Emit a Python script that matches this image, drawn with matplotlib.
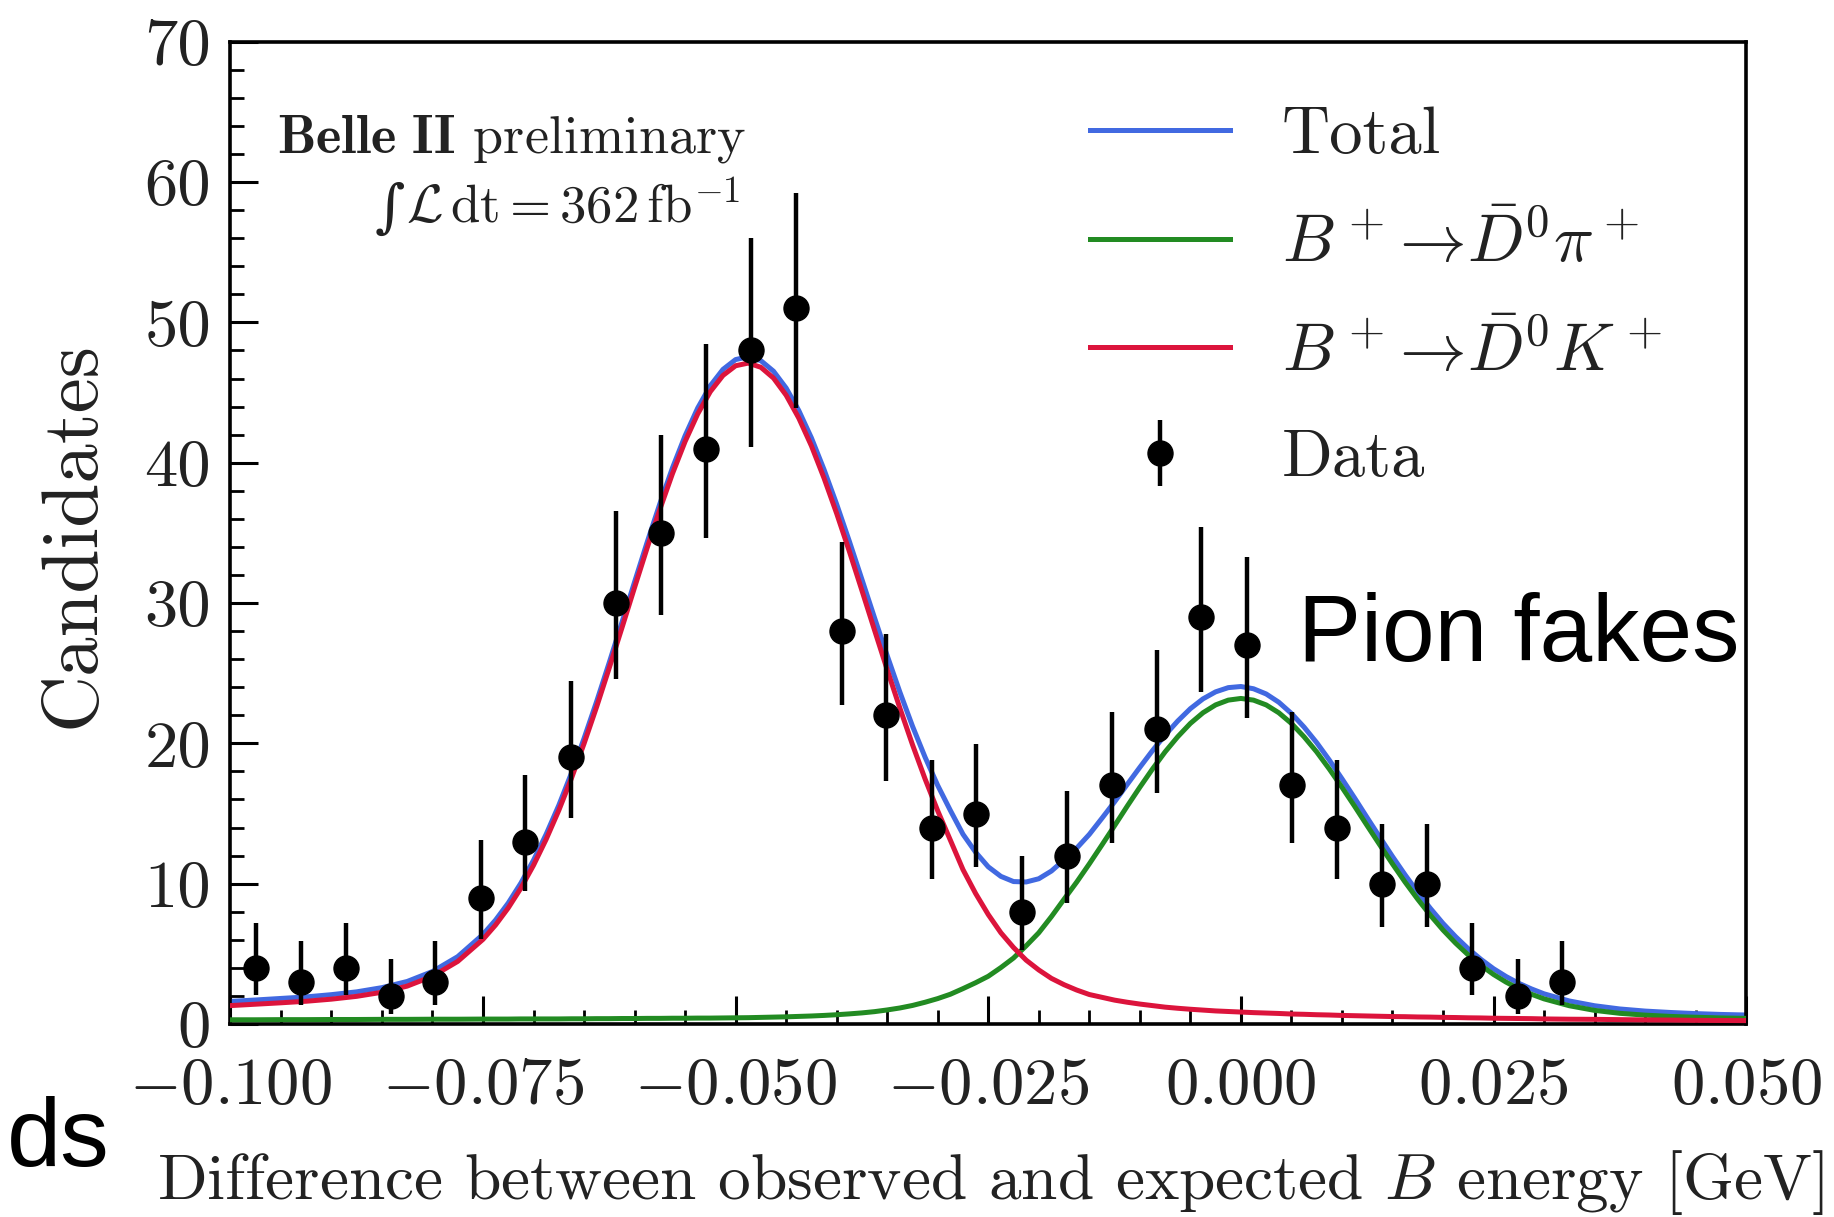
import matplotlib
matplotlib.use("Agg")
import numpy as np
import matplotlib.pyplot as plt
from matplotlib.ticker import MultipleLocator

plt.rcParams['font.family'] = 'serif'
plt.rcParams['font.serif'] = ['cmr10', 'DejaVu Serif']
plt.rcParams['mathtext.fontset'] = 'cm'
plt.rcParams['axes.formatter.use_mathtext'] = True
plt.rcParams['axes.unicode_minus'] = True

# --- data ---
# binned data (bin centres in GeV, candidates per bin, asymmetric Poisson errors)
bin_centers = [-0.0975, -0.0930, -0.0886, -0.0841, -0.0797, -0.0752, -0.0708, -0.0663,
               -0.0618, -0.0574, -0.0529, -0.0485, -0.0440, -0.0395, -0.0351, -0.0306,
               -0.0262, -0.0217, -0.0172, -0.0128, -0.0083, -0.0039, 0.0006, 0.0051,
               0.0095, 0.0140, 0.0184, 0.0229, 0.0274, 0.0318]
counts = [4, 3, 4, 2, 3, 9, 13, 19, 30, 35, 41, 48, 51, 28, 22, 14, 15, 8, 12, 17,
          21, 29, 27, 17, 14, 10, 10, 4, 2, 3]
err_low = [1.91, 1.63, 1.91, 1.29, 1.63, 2.94, 3.55, 4.32, 5.45, 5.88, 6.38, 6.90, 7.12,
           5.26, 4.65, 3.69, 3.83, 2.76, 3.41, 4.07, 4.54, 5.35, 5.16, 4.07, 3.69, 3.10,
           3.10, 1.91, 1.29, 1.63]
err_high = [3.18, 2.94, 3.18, 2.66, 2.94, 4.12, 4.71, 5.44, 6.54, 6.98, 7.46, 7.98, 8.19,
            6.36, 5.77, 4.84, 4.97, 3.96, 4.57, 5.21, 5.66, 6.45, 6.27, 5.21, 4.84, 4.28,
            4.28, 3.18, 2.66, 2.94]

# fit curves (denser sampling around the two peaks)
curve_x = [-0.10000, -0.09750, -0.09500, -0.09250, -0.09000, -0.08750, -0.08500, -0.08250,
           -0.08000, -0.07750, -0.07500, -0.07375, -0.07250, -0.07125, -0.07000, -0.06875,
           -0.06750, -0.06625, -0.06500, -0.06375, -0.06250, -0.06125, -0.06000, -0.05875,
           -0.05750, -0.05625, -0.05500, -0.05375, -0.05250, -0.05125, -0.05000, -0.04875,
           -0.04750, -0.04625, -0.04500, -0.04375, -0.04250, -0.04125, -0.04000, -0.03875,
           -0.03750, -0.03625, -0.03500, -0.03375, -0.03250, -0.03125, -0.03000, -0.02875,
           -0.02750, -0.02625, -0.02500, -0.02375, -0.02250, -0.02125, -0.02000, -0.01875,
           -0.01750, -0.01625, -0.01500, -0.01375, -0.01250, -0.01125, -0.01000, -0.00875,
           -0.00750, -0.00625, -0.00500, -0.00375, -0.00250, -0.00125, 0.00000, 0.00125,
           0.00250, 0.00375, 0.00500, 0.00625, 0.00750, 0.00875, 0.01000, 0.01125,
           0.01250, 0.01375, 0.01500, 0.01625, 0.01750, 0.01875, 0.02000, 0.02125,
           0.02250, 0.02375, 0.02500, 0.02625, 0.02750, 0.02875, 0.03000, 0.03250,
           0.03500, 0.03750, 0.04000, 0.04250, 0.04500, 0.04750, 0.05000]
dk_curve = [1.31, 1.41, 1.51, 1.62, 1.77, 1.97, 2.26, 2.70,
            3.40, 4.46, 6.03, 7.06, 8.27, 9.68, 11.31, 13.16,
            15.22, 17.50, 19.98, 22.61, 25.39, 28.23, 31.11, 33.94,
            36.67, 39.22, 41.51, 43.48, 45.07, 46.22, 46.91, 47.10,
            46.80, 46.03, 44.81, 43.18, 41.20, 38.90, 36.38, 33.69,
            30.89, 28.06, 25.25, 22.52, 19.91, 17.46, 15.19, 13.10,
            11.00, 9.30, 7.80, 6.50, 5.45, 4.55, 3.85, 3.25,
            2.80, 2.42, 2.10, 1.90, 1.70, 1.55, 1.42, 1.31,
            1.20, 1.12, 1.05, 0.99, 0.93, 0.89, 0.85, 0.81,
            0.78, 0.75, 0.71, 0.69, 0.66, 0.64, 0.61, 0.59,
            0.57, 0.55, 0.53, 0.52, 0.50, 0.49, 0.47, 0.46,
            0.44, 0.43, 0.41, 0.40, 0.39, 0.38, 0.36, 0.34,
            0.33, 0.31, 0.29, 0.28, 0.26, 0.25, 0.24]
dpi_curve = [0.30, 0.30, 0.31, 0.31, 0.32, 0.32, 0.33, 0.33,
             0.34, 0.34, 0.35, 0.35, 0.35, 0.36, 0.36, 0.36,
             0.36, 0.37, 0.37, 0.38, 0.38, 0.39, 0.39, 0.40,
             0.40, 0.41, 0.41, 0.42, 0.42, 0.43, 0.44, 0.45,
             0.47, 0.49, 0.51, 0.54, 0.57, 0.61, 0.66, 0.72,
             0.79, 0.88, 1.00, 1.14, 1.32, 1.55, 1.81, 2.12,
             2.52, 2.94, 3.40, 4.02, 4.70, 5.57, 6.50, 7.65,
             8.89, 10.11, 11.41, 12.76, 14.13, 15.52, 16.87, 18.17,
             19.39, 20.47, 21.42, 22.18, 22.74, 23.08, 23.20, 23.08,
             22.74, 22.18, 21.42, 20.47, 19.39, 18.17, 16.87, 15.52,
             14.13, 12.76, 11.41, 10.11, 8.89, 7.75, 6.70, 5.76,
             4.92, 4.18, 3.53, 2.98, 2.51, 2.12, 1.79, 1.30,
             0.97, 0.76, 0.63, 0.54, 0.48, 0.43, 0.40]

xticks = [-0.100, -0.075, -0.050, -0.025, 0.000, 0.025, 0.050]
xtick_labels = [r'$-0.100$', r'$-0.075$', r'$-0.050$', r'$-0.025$', r'$0.000$',
                r'$0.025$', r'$0.050$']
yticks = [0, 10, 20, 30, 40, 50, 60, 70]
ytick_labels = ['0', '10', '20', '30', '40', '50', '60', '70']

total_curve = np.array(dk_curve) + np.array(dpi_curve)

textc = '#222222'

fig = plt.figure(figsize=(18.34, 12.17), dpi=100)
ax = fig.add_axes([0.1256, 0.1586, 0.8265, 0.8071])

l_tot, = ax.plot(curve_x, total_curve, color='royalblue', lw=3.6, label='Total',
                 zorder=2, solid_joinstyle='round')
l_pi, = ax.plot(curve_x, dpi_curve, color='forestgreen', lw=3.6,
                label=r'$B^+\!\rightarrow\!\bar{D}^0\pi^+$', zorder=3, solid_joinstyle='round')
l_k, = ax.plot(curve_x, dk_curve, color='crimson', lw=3.6,
               label=r'$B^+\!\rightarrow\!\bar{D}^0K^+$', zorder=3, solid_joinstyle='round')
dat = ax.errorbar(bin_centers, counts, yerr=[err_low, err_high], fmt='o', color='black',
                  ms=18, elinewidth=3.2, capsize=0, label='Data', zorder=5)

ax.set_xlim(-0.1, 0.05)
ax.set_ylim(0, 70)
ax.set_xticks(xticks)
ax.set_xticklabels(xtick_labels)
ax.set_yticks(yticks)
ax.set_yticklabels(ytick_labels)
ax.xaxis.set_minor_locator(MultipleLocator(0.005))
ax.yaxis.set_minor_locator(MultipleLocator(2))
ax.tick_params(which='both', direction='in', top=False, right=False, colors='black',
               labelcolor=textc, labelsize=48)
ax.tick_params(which='major', length=20, width=2.2)
ax.tick_params(which='minor', length=10, width=2.0)
ax.tick_params(axis='x', pad=24)
ax.tick_params(axis='y', pad=14)
for sp in ax.spines.values():
    sp.set_linewidth(2.6)

# axis titles
fig.text(0.040, 0.561, 'Candidates', rotation=90, ha='center', va='center',
         fontsize=57, color=textc)
fig.text(0.540, 0.0148, r'Difference between observed and expected $B$ energy [GeV]',
         ha='center', va='baseline', fontsize=47, color=textc)

# experiment label
fig.text(0.407, 0.875, r'$\mathbf{Belle\ II}$ preliminary', ha='right', va='baseline',
         fontsize=39, color=textc)
fig.text(0.2125, 0.8274, '\u222b', family='DejaVu Serif', ha='center', va='center',
         fontsize=42, color=textc)
fig.text(0.4035, 0.8176, r'$\mathcal{L}\,\mathrm{dt} = 362\,\mathrm{fb}^{-1}$',
         ha='right', va='baseline', fontsize=38, color=textc)

leg = ax.legend(handles=[l_tot, l_pi, l_k, dat], loc='upper left',
                bbox_to_anchor=(0.567, 0.934), frameon=False, fontsize=48,
                handlelength=2.1, handletextpad=0.78, labelspacing=0.69,
                borderpad=0, borderaxespad=0)
for t in leg.get_texts():
    t.set_color(textc)

# slide annotations
ax.text(0.00565, 25.85, 'Pion fakes', family='Liberation Sans', fontsize=68,
        color='black', ha='left', va='baseline')
fig.text(0.004, 0.0415, 'ds', family='Liberation Sans', fontsize=70, color='black',
         ha='left', va='baseline')

fig.savefig('out.png', dpi=100, facecolor='white')
